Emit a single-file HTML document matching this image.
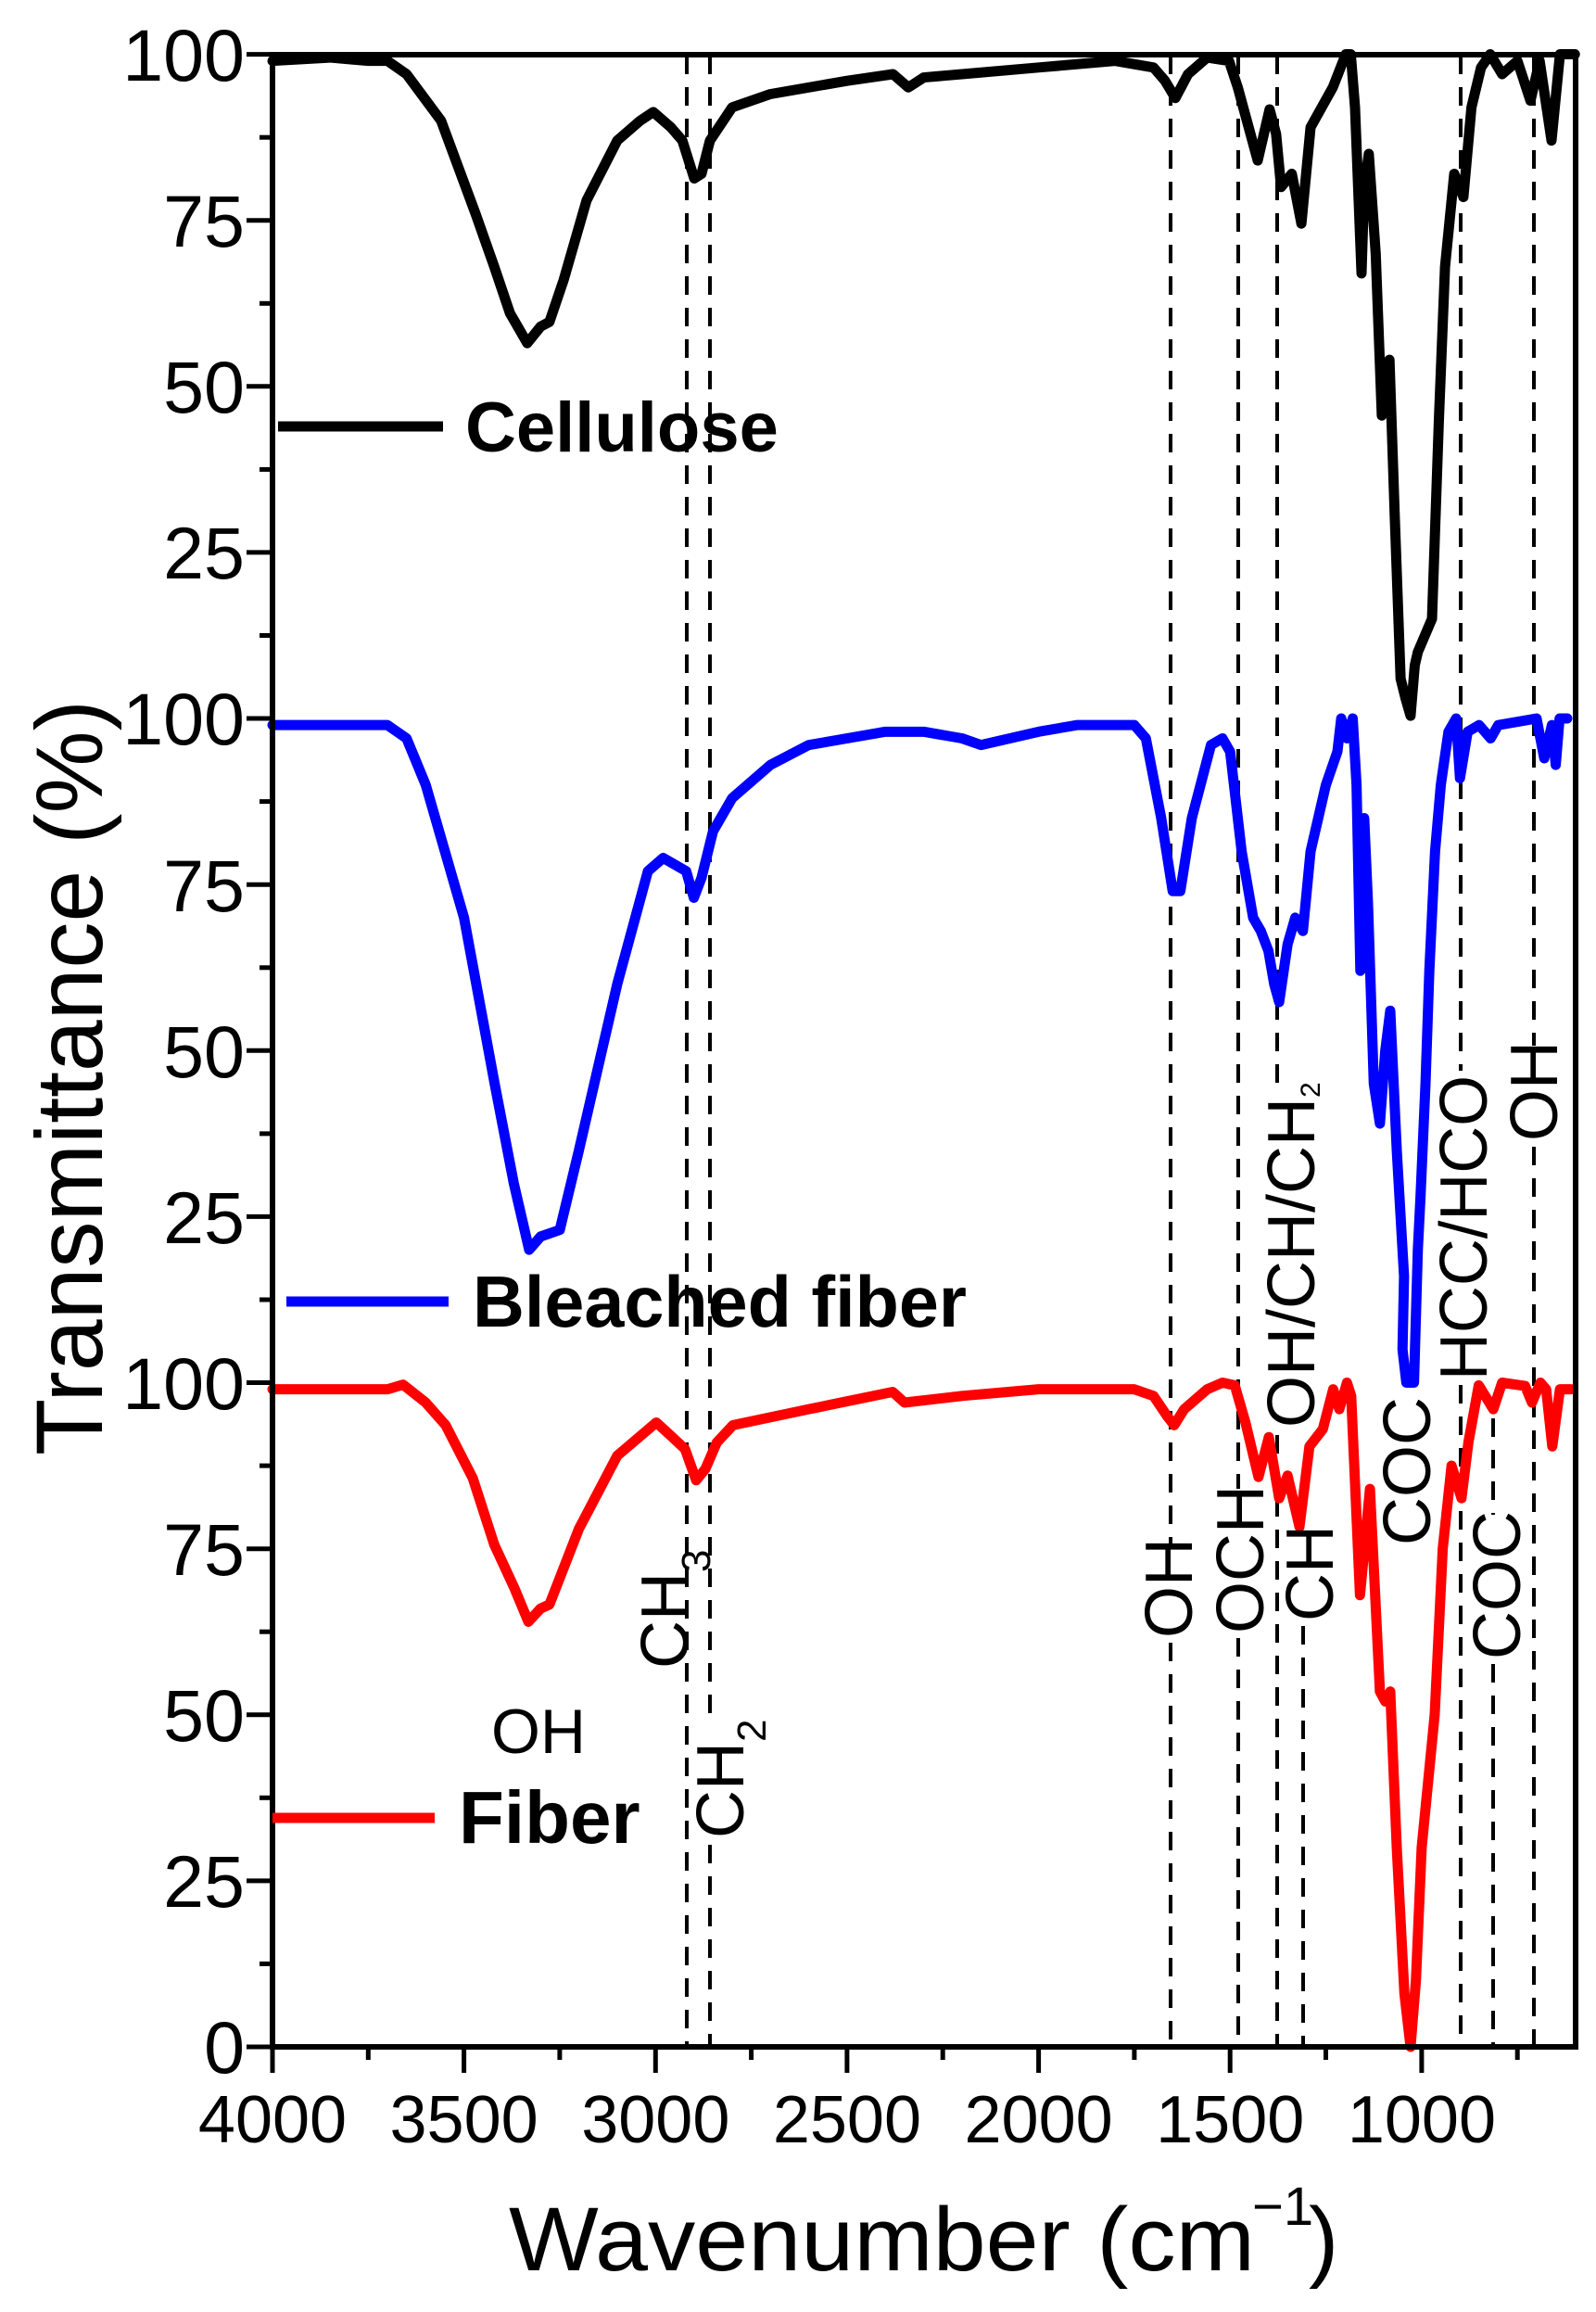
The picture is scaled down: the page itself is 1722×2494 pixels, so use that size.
<!DOCTYPE html>
<html><head><meta charset="utf-8"><style>
html,body{margin:0;padding:0;background:#fff;}
svg{display:block;}
text{font-family:"Liberation Sans",Arial,sans-serif;fill:#000;}
.c{fill:none;stroke-width:11;stroke-linejoin:round;stroke-linecap:round;}
.d{stroke:#000;stroke-width:4;stroke-dasharray:20 14;fill:none;}
</style></head><body>
<svg width="1722" height="2494" viewBox="0 0 1722 2494" xmlns="http://www.w3.org/2000/svg">
<g class="d">
<line x1="741" y1="60" x2="741" y2="2208"/>
<line x1="766" y1="60" x2="766" y2="1860"/><line x1="766" y1="1990" x2="766" y2="2208"/>
<line x1="1263" y1="60" x2="1263" y2="1665"/><line x1="1263" y1="1772" x2="1263" y2="2208"/>
<line x1="1336" y1="60" x2="1336" y2="1606"/><line x1="1336" y1="1767" x2="1336" y2="2208"/>
<line x1="1378" y1="60" x2="1378" y2="1168"/><line x1="1378" y1="1548" x2="1378" y2="2208"/>
<line x1="1406" y1="1754" x2="1406" y2="2208"/>
<line x1="1576" y1="60" x2="1576" y2="1155"/><line x1="1576" y1="1494" x2="1576" y2="2208"/>
<line x1="1611" y1="1530" x2="1611" y2="1634"/><line x1="1611" y1="1795" x2="1611" y2="2208"/>
<line x1="1655" y1="60" x2="1655" y2="1128"/><line x1="1655" y1="1237" x2="1655" y2="2208"/>
</g>
<g transform="matrix(-0.4133,0,0,-7.165,1947.2,775)">
<polyline class="c" stroke="#000" vector-effect="non-scaling-stroke" points="4000,99 3850,99.5 3750,99 3700,99 3650,97 3560,90 3470,76 3421,68 3380,61 3335,56.5 3300,59 3277,59.7 3240,66 3180,78 3100,87 3040,90 3006,91.3 2960,89 2930,87 2899,81.3 2880,82 2858,87 2800,92 2700,94 2500,96 2380,97 2340,95 2300,96.5 2200,97 2000,98 1800,99 1700,98 1670,96 1643,93.4 1610,97 1560,99.5 1503,99 1480,95 1428,84 1397,91.7 1380,88 1367,80 1339,82 1314,74.5 1290,89 1232,95 1198,100 1185,100 1174,92 1157,67 1150,80 1138,85 1120,70 1104,45.6 1092,50 1084,54 1070,30 1055,6 1042,3 1029,0.4 1018,8 1010,10 973,15 955,45 939,68 915,82 891,78.5 870,92 845,98 821,100 790,97 750,99 716,93 692,99 661,87 639,100 600,100"/>
</g>
<g transform="matrix(-0.4133,0,0,-7.165,1947.2,1491.5)">
<polyline class="c" stroke="#0000ff" vector-effect="non-scaling-stroke" points="4000,99 3850,99 3700,99 3650,97 3600,90 3500,70 3420,45 3370,30 3330,20 3300,22 3250,23 3200,35 3100,60 3020,77 2980,79 2950,78 2920,77 2900,73 2880,76 2850,83 2800,88 2700,93 2600,96 2400,98 2300,98 2200,97 2150,96 2000,98 1900,99 1750,99 1720,97 1680,85 1650,74 1630,74 1600,85 1550,96 1520,97 1500,95 1470,80 1440,70 1420,68 1400,65 1385,60 1372,57.3 1350,66 1330,70 1310,68 1290,80 1250,90 1220,95 1210,100 1195,97 1180,100 1170,90 1160,62 1150,85 1140,72 1125,45 1109,39 1095,50 1082,56 1065,35 1046,16 1050,5 1040,0 1020,0 1010,20 1003,28 990,45 980,62 965,80 950,90 930,98 910,100 900,91 880,98 850,99 820,97 800,99 700,100 680,94 660,99 650,93 640,100 620,100"/>
</g>
<g transform="matrix(-0.4133,0,0,-7.165,1947.2,2208)">
<polyline class="c" stroke="#ff0000" vector-effect="non-scaling-stroke" points="4000,99 3850,99 3700,99 3659,99.7 3600,97 3548,93.6 3477,85.6 3421,75.6 3368,69 3332,64 3300,66 3277,66.6 3200,78 3100,89 2998,94 2960,92 2923,90 2894,85.3 2870,87 2840,91 2798,93.6 2600,96 2381,98.6 2350,97 2200,98 2000,99 1750,99 1700,98 1665,95 1646,93.6 1620,96 1560,99 1520,100 1488,99.6 1460,94 1426,85.8 1399,91.8 1372,82.6 1350,86 1319,78.3 1293,90.4 1258,93 1231,99 1215,96 1195,100 1184,98 1161,68 1135,84 1109,53.5 1095,52 1082,53.5 1065,30 1045,8 1029,0 1015,10 1000,30 983,40 966,50 945,75 922,87.5 896,82.6 878,91 851,99.6 813,96 790,100 730,99.5 712,97 690,100 675,99 659,90.4 639,99 610,99"/>
</g>
<rect x="294" y="59" width="1406" height="2149" fill="none" stroke="#000" stroke-width="6"/>
<g stroke="#000" stroke-width="5">
<line x1="266" y1="2208" x2="294" y2="2208"/><line x1="280" y1="2118.4" x2="294" y2="2118.4"/>
<line x1="266" y1="2028.9" x2="294" y2="2028.9"/><line x1="280" y1="1939.3" x2="294" y2="1939.3"/>
<line x1="266" y1="1849.8" x2="294" y2="1849.8"/><line x1="280" y1="1760.2" x2="294" y2="1760.2"/>
<line x1="266" y1="1670.7" x2="294" y2="1670.7"/><line x1="280" y1="1581.1" x2="294" y2="1581.1"/>
<line x1="266" y1="1491.5" x2="294" y2="1491.5"/><line x1="280" y1="1402" x2="294" y2="1402"/>
<line x1="266" y1="1312.4" x2="294" y2="1312.4"/><line x1="280" y1="1222.9" x2="294" y2="1222.9"/>
<line x1="266" y1="1133.3" x2="294" y2="1133.3"/><line x1="280" y1="1043.8" x2="294" y2="1043.8"/>
<line x1="266" y1="954.2" x2="294" y2="954.2"/><line x1="280" y1="864.6" x2="294" y2="864.6"/>
<line x1="266" y1="775" x2="294" y2="775"/><line x1="280" y1="685.5" x2="294" y2="685.5"/>
<line x1="266" y1="595.9" x2="294" y2="595.9"/><line x1="280" y1="506.4" x2="294" y2="506.4"/>
<line x1="266" y1="416.8" x2="294" y2="416.8"/><line x1="280" y1="327.3" x2="294" y2="327.3"/>
<line x1="266" y1="237.7" x2="294" y2="237.7"/><line x1="280" y1="148.2" x2="294" y2="148.2"/>
<line x1="266" y1="58.6" x2="294" y2="58.6"/>
</g>
<g font-size="79" text-anchor="end">
<text x="264" y="2236">0</text><text x="264" y="2057">25</text><text x="264" y="1878">50</text><text x="264" y="1699">75</text>
<text x="264" y="1520">100</text><text x="264" y="1341">25</text><text x="264" y="1162">50</text><text x="264" y="983">75</text>
<text x="264" y="803">100</text><text x="264" y="624">25</text><text x="264" y="445">50</text><text x="264" y="266">75</text>
<text x="264" y="87">100</text>
</g>
<g stroke="#000" stroke-width="5">
<line x1="294" y1="2208" x2="294" y2="2236"/><line x1="397.3" y1="2208" x2="397.3" y2="2222"/>
<line x1="500.6" y1="2208" x2="500.6" y2="2236"/><line x1="603.9" y1="2208" x2="603.9" y2="2222"/>
<line x1="707.3" y1="2208" x2="707.3" y2="2236"/><line x1="810.6" y1="2208" x2="810.6" y2="2222"/>
<line x1="913.9" y1="2208" x2="913.9" y2="2236"/><line x1="1017.2" y1="2208" x2="1017.2" y2="2222"/>
<line x1="1120.6" y1="2208" x2="1120.6" y2="2236"/><line x1="1223.9" y1="2208" x2="1223.9" y2="2222"/>
<line x1="1327.2" y1="2208" x2="1327.2" y2="2236"/><line x1="1430.5" y1="2208" x2="1430.5" y2="2222"/>
<line x1="1533.9" y1="2208" x2="1533.9" y2="2236"/><line x1="1637.2" y1="2208" x2="1637.2" y2="2222"/>
</g>
<g font-size="72" text-anchor="middle">
<text x="294" y="2311">4000</text><text x="500.6" y="2311">3500</text><text x="707.3" y="2311">3000</text>
<text x="913.9" y="2311">2500</text><text x="1120.6" y="2311">2000</text><text x="1327.2" y="2311">1500</text>
<text x="1533.9" y="2311">1000</text>
</g>
<text transform="translate(110,1570) rotate(-90)" font-size="102" textLength="815" lengthAdjust="spacingAndGlyphs">Transmittance (%)</text>
<text x="549" y="2449" font-size="97" textLength="805" lengthAdjust="spacingAndGlyphs">Wavenumber (cm</text>
<text x="1351" y="2400" font-size="58">−1</text>
<text x="1412" y="2449" font-size="97">)</text>
<line x1="300" y1="460" x2="478" y2="460" stroke="#000" stroke-width="11"/>
<text x="502" y="487" font-size="76" font-weight="bold">Cellulose</text>
<line x1="309" y1="1404" x2="484" y2="1404" stroke="#0000ff" stroke-width="11"/>
<text x="510" y="1431" font-size="78" font-weight="bold" textLength="533" lengthAdjust="spacingAndGlyphs">Bleached fiber</text>
<line x1="294" y1="1961" x2="469" y2="1961" stroke="#ff0000" stroke-width="11"/>
<text x="495" y="1988" font-size="80" font-weight="bold">Fiber</text>
<g font-size="72">
<text x="530" y="1891" font-size="68">OH</text>
<text transform="translate(742,1800) rotate(-90)">CH<tspan font-size="44" dy="24">3</tspan></text>
<text transform="translate(802,1983) rotate(-90)">CH<tspan font-size="44" dy="24">2</tspan></text>
<text transform="translate(1286,1767) rotate(-90)">OH</text>
<text transform="translate(1363,1762) rotate(-90)">OCH</text>
<text transform="translate(1438,1749) rotate(-90)">CH</text>
<text transform="translate(1418,1540) rotate(-90)">OH/CH/CH<tspan font-size="30" dy="6">2</tspan></text>
<text transform="translate(1543,1667) rotate(-90)">COC</text>
<text transform="translate(1604,1489) rotate(-90)" textLength="329" lengthAdjust="spacingAndGlyphs">HCC/HCO</text>
<text transform="translate(1640,1790) rotate(-90)">COC</text>
<text transform="translate(1680,1231) rotate(-90)">OH</text>
</g>
</svg>
</body></html>
